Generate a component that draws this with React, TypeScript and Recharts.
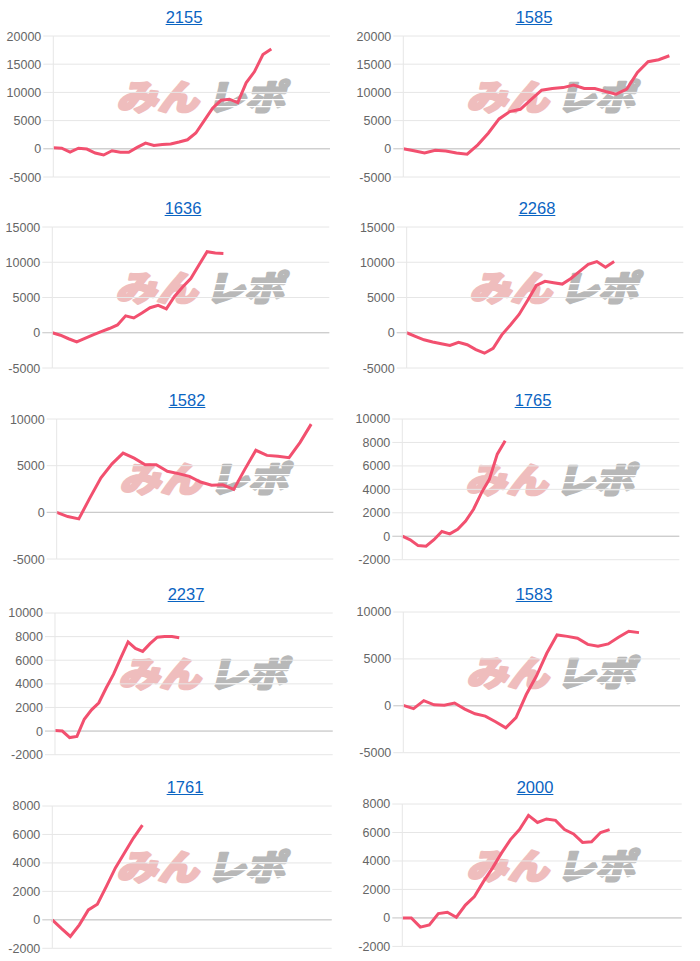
import React from "react";
import { LineChart, Line, XAxis, YAxis, CartesianGrid, ReferenceLine } from "recharts";

const titles = ["2155", "1585", "1636", "2268", "1582", "1765", "2237", "1583", "1761", "2000"];

const s2155 = [200, 100, -600, 100, -50, -750, -1100, -350, -600, -600, 250, 1000, 600, 750, 850, 1200, 1600, 2800, 5000, 7200, 8600, 8800, 8200, 11700, 13700, 16700, 17700];
const s1585 = [0, -350, -750, -250, -400, -750, -950, 700, 2800, 5300, 6600, 7000, 8700, 10400, 10700, 10850, 11300, 10700, 10700, 10150, 9700, 10600, 13550, 15450, 15800, 16500];
const s1636 = [0, -350, -850, -1300, -800, -300, 150, 600, 1100, 2400, 2100, 2800, 3550, 3900, 3400, 5150, 6500, 7700, 9600, 11500, 11300, 11250];
const s2268 = [0, -500, -1000, -1300, -1550, -1800, -1350, -1700, -2400, -2900, -2200, -300, 1100, 2600, 4600, 6700, 7300, 7100, 6900, 7700, 8700, 9700, 10100, 9300, 10100];
const s1582 = [0, -450, -700, 1550, 3700, 5200, 6350, 5800, 5100, 5100, 4400, 4150, 3850, 3250, 2900, 2950, 2450, 4600, 6650, 6100, 6000, 5850, 7500, 9450];
const s1765 = [0, -300, -800, -850, -300, 400, 200, 600, 1300, 2300, 3700, 4850, 7000, 8150];
const s2237 = [50, 0, -550, -450, 1000, 1800, 2400, 3650, 4800, 6200, 7550, 7000, 6750, 7400, 7950, 8000, 8000, 7900];
const s1583 = [50, -300, 550, 100, 50, 300, -350, -850, -1100, -1700, -2350, -1250, 1200, 3200, 5600, 7550, 7400, 7200, 6550, 6350, 6600, 7300, 7950, 7800];
const s1761 = [0, -600, -1170, -350, 700, 1100, 2350, 3650, 4700, 5750, 6650];
const s2000 = [0, 0, -650, -500, 300, 400, 50, 900, 1500, 2550, 3500, 4550, 5500, 6200, 7200, 6700, 6950, 6850, 6200, 5900, 5300, 5350, 6000, 6200];

const seriesList = [s2155, s1585, s1636, s2268, s1582, s1765, s2237, s1583, s1761, s2000];

// number of x-label gaps on each chart (the line stops before the end)
const slotCounts = [33, 26, 34, 32, 25, 35, 38, 27, 31, 31];

const ticks20k = [-5000, 0, 5000, 10000, 15000, 20000];
const ticks15k = [-5000, 0, 5000, 10000, 15000];
const ticks10k = [-5000, 0, 5000, 10000];
const ticks10kFine = [-2000, 0, 2000, 4000, 6000, 8000, 10000];
const ticks8k = [-2000, 0, 2000, 4000, 6000, 8000];
const yTicks = [ticks20k, ticks20k, ticks15k, ticks15k, ticks10k, ticks10kFine, ticks10kFine, ticks10k, ticks8k, ticks8k];

// plot boxes: left, right, top, bottom, title center x, title center y
const boxes = [
  [53.3, 330, 36, 177, 184, 16.7],
  [403.3, 680, 36, 177, 534, 16.7],
  [52.3, 329.3, 227.3, 368.3, 183, 208.3],
  [406.7, 683.3, 227.3, 368.3, 537, 208.3],
  [56.7, 333.3, 419.3, 559.3, 187, 400],
  [402.3, 679.3, 419.3, 560, 533, 400],
  [55, 332.7, 613, 754.7, 186, 593.7],
  [403.3, 680, 612.3, 753, 534, 593.7],
  [52.3, 331.7, 806, 948.3, 185, 786.7],
  [402.3, 681.7, 804.3, 946.7, 535, 786.7],
];

const FONT = "'Liberation Sans', Arial, Helvetica, sans-serif";
const LINE_COLOR = "#f2506f";

function YTick(props: any) {
  const { x, y, payload } = props;
  return (
    <g>
      <line x1={x + 2} x2={x + 12} y1={y} y2={y} stroke={payload.value === 0 ? "#c4c4c4" : "#e6e6e6"} />
      <text x={x} y={y} dy={4.5} textAnchor="end" fill="#666" fontSize={12.5} fontFamily={FONT}>
        {payload.value}
      </text>
    </g>
  );
}

// the site logo drawn faintly behind each chart
function Watermark({ cx, cy }: { cx: number; cy: number }) {
  const w = 210;
  const h = 60;
  return (
    <svg
      width={w}
      height={h}
      style={{ position: "absolute", left: cx - w / 2, top: cy - h / 2, overflow: "visible" }}
    >
      <g transform="translate(25,13) skewX(-14)">
        <text
          x={2}
          y={30}
          fontSize={35}
          fontWeight={900}
          fontFamily="'Noto Sans CJK JP', sans-serif"
          fill="#efbdbd"
          stroke="#efbdbd"
          strokeWidth={2.5}
          strokeLinejoin="round"
          textLength={82}
          lengthAdjust="spacingAndGlyphs"
        >
          みん
        </text>
        <text
          x={92}
          y={30}
          fontSize={35}
          fontWeight={900}
          fontFamily="'Noto Sans CJK JP', sans-serif"
          fill="#b8b8b8"
          stroke="#b8b8b8"
          strokeWidth={2.5}
          strokeLinejoin="round"
          textLength={78}
          lengthAdjust="spacingAndGlyphs"
        >
          レポ
        </text>
        <rect x={90} y={12} width={84} height={1.2} fill="#fff" />
        <rect x={90} y={19} width={84} height={1.2} fill="#fff" />
        <rect x={90} y={26} width={84} height={1.2} fill="#fff" />
      </g>
    </svg>
  );
}

function MiniChart({ idx }: { idx: number }) {
  const [l, r, t, b, tx, ty] = boxes[idx];
  const cellLeft = l < 350 ? 0 : 350;
  const ticks = yTicks[idx];
  const data = seriesList[idx].map((v, i) => ({ x: i, v }));
  return (
    <>
      <div
        style={{
          position: "absolute",
          left: tx - 50,
          width: 100,
          top: ty - 10,
          height: 20,
          lineHeight: "20px",
          textAlign: "center",
          fontFamily: FONT,
          fontSize: 16.5,
        }}
      >
        <a href="#" style={{ color: "#0a64c2", textDecoration: "underline" }}>
          {titles[idx]}
        </a>
      </div>
      <Watermark cx={(l + r) / 2 + 10} cy={(t + b) / 2 - 10} />
      <div style={{ position: "absolute", left: cellLeft, top: t - 10 }}>
        <LineChart
          width={350}
          height={b - t + 20}
          data={data}
          margin={{ top: 10, bottom: 10, left: 0, right: cellLeft + 350 - r }}
        >
          <CartesianGrid vertical={false} stroke="#e6e6e6" />
          <XAxis type="number" dataKey="x" domain={[0, slotCounts[idx]]} hide />
          <YAxis
            type="number"
            domain={[ticks[0], ticks[ticks.length - 1]]}
            ticks={ticks}
            interval={0}
            width={l - cellLeft}
            tickSize={10}
            tickMargin={2}
            tickLine={false}
            axisLine={{ stroke: "#e6e6e6" }}
            tick={<YTick />}
            allowDataOverflow
          />
          <ReferenceLine y={0} stroke="#c4c4c4" />
          <Line
            type="linear"
            dataKey="v"
            stroke={LINE_COLOR}
            strokeWidth={3}
            dot={false}
            activeDot={false}
            isAnimationActive={false}
          />
        </LineChart>
      </div>
    </>
  );
}

export default function App() {
  return (
    <div style={{ position: "relative", width: 700, height: 961, background: "#fff", overflow: "hidden" }}>
      <style>{"body{margin:0;}"}</style>
      {titles.map((_, i) => (
        <MiniChart key={i} idx={i} />
      ))}
    </div>
  );
}
